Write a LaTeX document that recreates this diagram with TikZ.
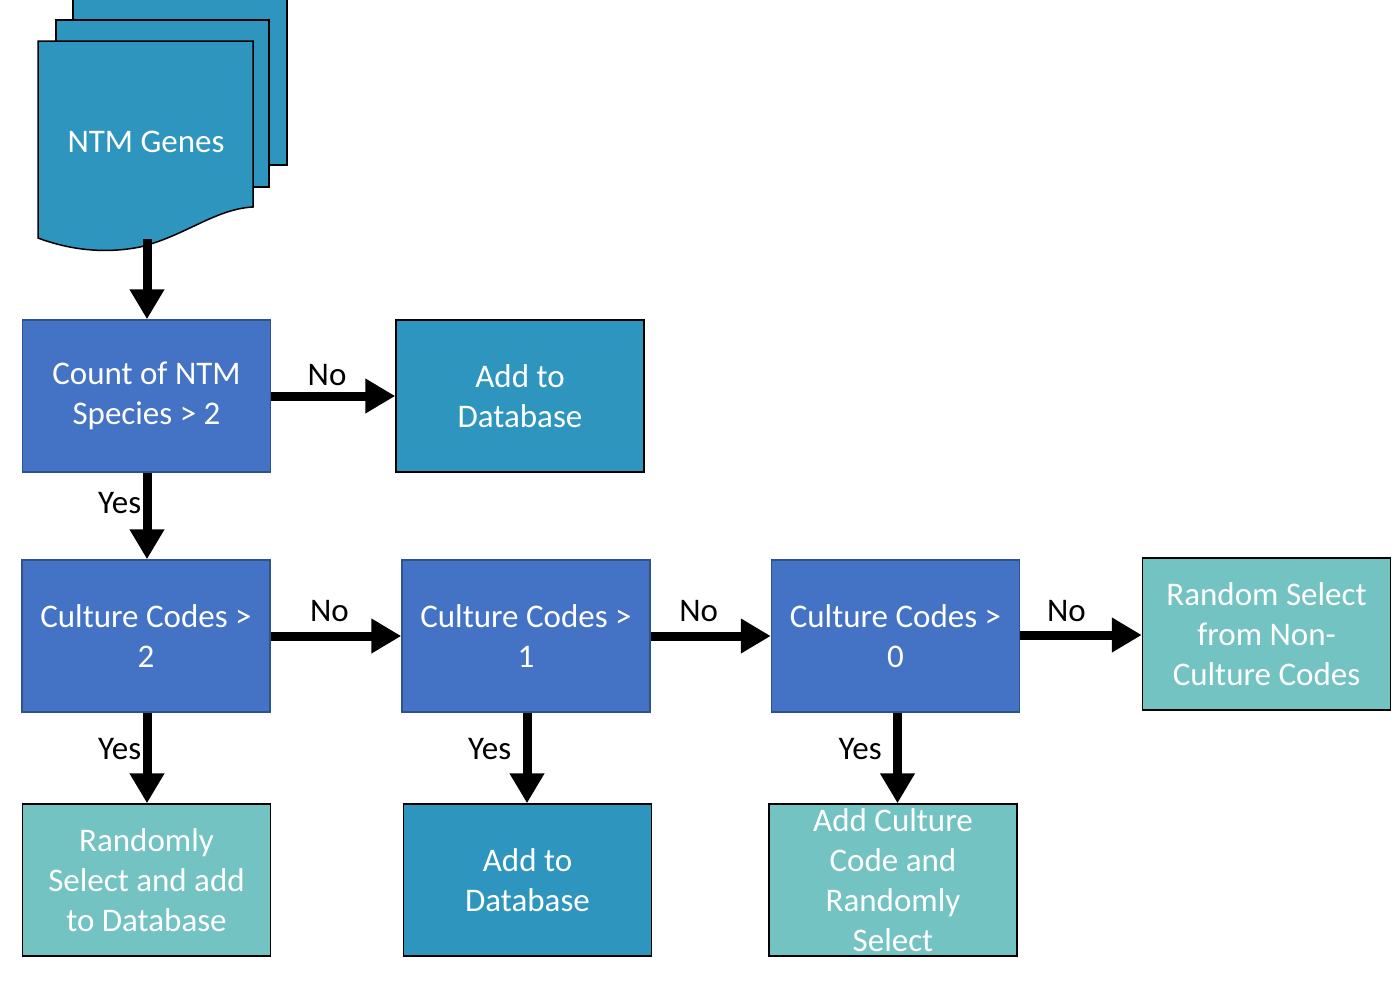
\documentclass[tikz,border=0pt]{standalone}
\usepackage{fontspec}
\setmainfont{Carlito}
\usetikzlibrary{arrows.meta}
\definecolor{azulcaja}{HTML}{4472C4}
\definecolor{bordeazul}{HTML}{2F528F}
\definecolor{azulbase}{HTML}{2E95BE}
\definecolor{verdeagua}{HTML}{73C3C3}
\tikzset{
  caja/.style={rectangle, minimum width=248pt, minimum height=152pt, inner sep=2pt,
    align=center, text=white, font=\fontsize{33}{40}\selectfont, line width=1.5pt},
  pregunta/.style={caja, fill=azulcaja, draw=bordeazul},
  basedatos/.style={caja, fill=azulbase, draw=black},
  seleccion/.style={caja, fill=verdeagua, draw=black},
  flecha/.style={line width=9pt, -{Triangle[length=30pt,width=33pt]}},
  etiqueta/.style={font=\fontsize{33}{40}\selectfont, text=black}
}
\begin{document}
\begin{tikzpicture}[x=1pt,y=-1pt]
                \clip (0,0) rectangle (1395,988);
                \fill[white] (0,0) rectangle (1395,988);

                % Documentos
                \draw[fill=azulbase, line width=1.5pt] (73,-3) rectangle (287,165);
                \draw[fill=azulbase, line width=1.5pt] (56,20) rectangle (269,187);
                \draw[fill=azulbase, line width=1.5pt] (38,41) -- (253,41) -- (253,207)
                    .. controls (215,209) and (185,236) .. (140,247)
                    .. controls (105,254) and (70,250) .. (38,238) -- cycle;
                \node[caja, minimum width=0pt, minimum height=0pt] (genes) at (146,142) {NTM Genes};
                \coordinate (genesbot) at (147,239);

                % Preguntas
                \node[pregunta] (count) at (146.5,396) {Count of NTM\\Species > 2};
                \node[pregunta] (cc2) at (146,636) {Culture Codes >\\2};
                \node[pregunta] (cc1) at (526,636) {Culture Codes >\\1};
                \node[pregunta] (cc0) at (895.5,636) {Culture Codes >\\0};

                % Resultados
                \node[basedatos] (addtop) at (520,396) {Add to\\Database};
                \node[basedatos] (addbot) at (527.5,880) {Add to\\Database};
                \node[seleccion] (randnon) at (1266.5,634) {Random Select\\from Non-\\Culture Codes};
                \node[seleccion] (randadd) at (146.5,880) {Randomly\\Select and add\\to Database};
                \node[seleccion] (addcult) at (893,880) {Add Culture\\Code and\\Randomly\\Select};

                % Flechas
                \draw[flecha] (genesbot) -- (count.north -| genesbot);
                \draw[flecha] (count) -- node[etiqueta, above=2pt, pos=0.45] {No} (addtop);
                \draw[flecha] (count.south -| genesbot) -- node[etiqueta, left=-2pt, pos=0.35] {Yes} (cc2.north -| genesbot);
                \draw[flecha] (cc2) -- node[etiqueta, above=6pt, pos=0.45] {No} (cc1);
                \draw[flecha] (cc1) -- node[etiqueta, above=6pt, pos=0.4] {No} (cc0);
                \draw[flecha] (cc0.east) ++(0,-1) coordinate (cc0e) -- node[etiqueta, above=5pt, pos=0.38] {No} (cc0e -| randnon.west);
                \draw[flecha] (cc2.south -| genesbot) -- node[etiqueta, left=-2pt, pos=0.4] {Yes} (randadd.north -| genesbot);
                \draw[flecha] (cc1.south) ++(1,0) coordinate (cc1s) -- node[etiqueta, left=8pt, pos=0.4] {Yes} (cc1s |- addbot.north);
                \draw[flecha] (cc0.south) ++(2,0) coordinate (cc0s) -- node[etiqueta, left=8pt, pos=0.4] {Yes} (cc0s |- addcult.north);

            \end{tikzpicture}
\end{document}
